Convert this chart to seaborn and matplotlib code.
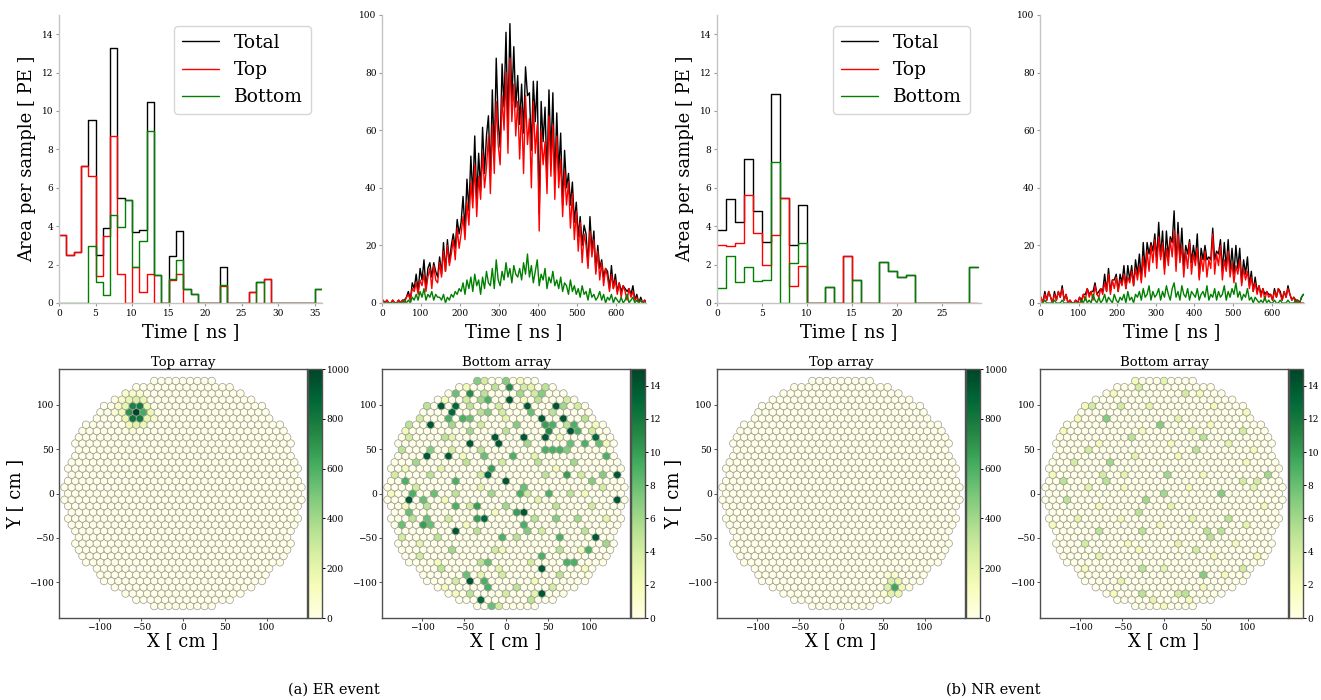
import numpy as np
import matplotlib
matplotlib.use("Agg")
import matplotlib.pyplot as plt
import seaborn as sns

# ---------------- waveform data (area per sample, PE) ----------------
# zoomed start of the waveform, 1 ns samples
er_zoom_top = [3.55, 2.5, 2.65, 7.15, 6.6, 1.4, 3.5, 8.7, 1.5, 0, 1.85, 0.55, 1.5, 0, 0, 1.2, 1.5, 0,
               0, 0, 0, 0, 0.9, 0, 0, 0, 0.55, 0, 1.25, 0, 0, 0, 0, 0, 0, 0]
er_zoom_bottom = [0, 0, 0, 0, 2.95, 1.1, 0.4, 4.6, 3.95, 5.35, 1.85, 3.25, 8.95, 1.45, 0, 1.25, 2.25, 0.75,
                  0.45, 0, 0, 0, 0.95, 0, 0, 0, 0, 1.1, 0, 0, 0, 0, 0, 0, 0, 0.75]
nr_zoom_top = [3.0, 2.95, 3.1, 5.6, 3.65, 2.0, 3.55, 5.45, 0.9, 1.95, 0, 0, 0, 0, 2.45, 0, 0, 0,
               0, 0, 0, 0, 0, 0, 0, 0, 0, 0, 0]
nr_zoom_bottom = [0.8, 2.45, 1.1, 1.9, 1.15, 1.2, 7.35, 0, 2.1, 3.15, 0, 0, 0.85, 0, 0, 1.2, 0, 0,
                  2.15, 1.65, 1.35, 1.45, 0, 0, 0, 0, 0, 0, 1.9]

# full waveform, 5 ns bins
wave_bin = 5
er_top = [1, 0, 1, 0, 0, 1, 0, 0, 1, 0,
          1, 0, 2, 3, 1, 5, 4, 7, 3, 8,
          6, 10, 4, 9, 12, 5, 13, 8, 7, 14,
          9, 18, 11, 20, 13, 17, 22, 15, 26, 19,
          24, 30, 22, 35, 27, 42, 33, 48, 30, 44,
          36, 52, 40, 47, 58, 38, 62, 45, 70, 55,
          48, 72, 60, 80, 52, 85, 63, 76, 58, 70,
          50, 68, 45, 72, 55, 64, 40, 70, 52, 62,
          25, 60, 48, 56, 38, 65, 44, 62, 36, 58,
          40, 50, 30, 46, 34, 42, 26, 38, 22, 32,
          18, 28, 14, 24, 20, 12, 25, 16, 22, 10,
          18, 8, 14, 6, 12, 9, 4, 10, 5, 8,
          3, 7, 2, 6, 4, 1, 5, 2, 4, 1,
          2, 0, 1, 0, 1, 0]
er_bottom = [0, 0, 0, 0, 0, 0, 0, 0, 0, 0,
             0, 1, 0, 1, 0, 2, 1, 3, 1, 4,
             2, 5, 1, 3, 2, 4, 1, 3, 2, 2,
             1, 3, 0, 2, 1, 3, 2, 4, 3, 5,
             4, 7, 3, 8, 5, 9, 4, 10, 6, 8,
             3, 9, 5, 11, 7, 6, 12, 5, 15, 8,
             6, 11, 8, 14, 9, 12, 7, 13, 10, 9,
             12, 8, 14, 10, 17, 9, 13, 7, 11, 15,
             6, 10, 8, 12, 5, 9, 7, 11, 6, 8,
             5, 9, 4, 7, 6, 3, 8, 4, 6, 3,
             5, 2, 6, 3, 4, 1, 5, 2, 3, 1,
             2, 4, 1, 3, 0, 2, 1, 3, 0, 2,
             1, 0, 2, 0, 1, 3, 0, 1, 2, 0,
             1, 0, 1, 0, 0, 0]
nr_top = [2, 0, 3, 1, 4, 2, 0, 3, 1, 4,
          2, 5, 1, 3, 0, 1, 0, 0, 1, 0,
          2, 0, 3, 1, 5, 2, 4, 1, 6, 3,
          2, 5, 3, 7, 4, 10, 3, 8, 5, 9,
          4, 8, 6, 10, 5, 9, 7, 11, 6, 12,
          8, 13, 7, 16, 9, 18, 11, 20, 14, 22,
          12, 23, 15, 21, 10, 19, 13, 22, 16, 25,
          11, 24, 14, 20, 9, 18, 12, 21, 10, 17,
          13, 19, 8, 16, 11, 18, 9, 15, 12, 24,
          10, 17, 13, 20, 8, 15, 11, 18, 9, 14,
          7, 13, 10, 15, 6, 12, 8, 11, 5, 9,
          4, 7, 3, 6, 2, 5, 1, 4, 2, 3,
          1, 4, 2, 5, 3, 1, 4, 2, 5, 3,
          1, 2, 0, 1, 0, 0, 0]
nr_bottom = [0, 0, 1, 0, 0, 0, 0, 1, 0, 0,
             0, 1, 0, 0, 0, 0, 0, 0, 0, 0,
             0, 1, 0, 2, 0, 1, 0, 3, 1, 0,
             2, 0, 1, 3, 0, 2, 1, 0, 3, 1,
             0, 2, 1, 3, 0, 4, 1, 2, 0, 3,
             2, 4, 1, 5, 2, 3, 6, 1, 4, 2,
             3, 5, 1, 4, 2, 6, 3, 1, 5, 7,
             2, 4, 1, 6, 3, 2, 5, 1, 4, 3,
             2, 5, 1, 3, 4, 2, 6, 1, 3, 2,
             5, 1, 4, 2, 3, 6, 1, 4, 2, 5,
             3, 7, 2, 4, 1, 3, 2, 5, 1, 2,
             0, 2, 1, 0, 1, 0, 2, 0, 1, 0,
             0, 1, 0, 0, 1, 0, 0, 0, 1, 0,
             0, 0, 1, 0, 0, 2, 3]

# ---------------- PMT hit patterns (x cm, y cm, area) ----------------
er_top_hits = [
    (-55.7, 91.4, 1000),
    (-60.0, 98.4, 760), (-51.4, 98.4, 790), (-64.3, 91.4, 700), (-47.1, 91.4, 620),
    (-60.0, 84.4, 820), (-51.4, 84.4, 800),
    (-64.3, 105.5, 190), (-55.7, 105.5, 240), (-47.1, 105.5, 170),
    (-68.6, 98.4, 180), (-42.8, 98.4, 160), (-72.8, 91.4, 150), (-38.6, 91.4, 170),
    (-68.6, 84.4, 170), (-42.8, 84.4, 180),
    (-64.3, 77.3, 140), (-55.7, 77.3, 210), (-47.1, 77.3, 160),
    (-72.8, 105.5, 100), (-77.1, 98.4, 80), (-60.0, 112.5, 90), (-68.6, 112.5, 70),
    (-51.4, 112.5, 80), (-81.4, 91.4, 70), (-34.3, 84.4, 80), (-60.0, 70.3, 70),
]
nr_top_hits = [
    (64.3, -105.5, 640),
    (60.0, -98.4, 260), (68.6, -98.4, 190), (55.7, -105.5, 230), (72.8, -105.5, 150),
    (60.0, -112.5, 210), (68.6, -112.5, 170), (64.3, -91.4, 80), (55.7, -91.4, 60),
    (51.4, -112.5, 70), (64.3, -119.5, 70),
]
er_bottom_hits = [
    # strong
    (4, 120, 11), (-40, 112, 11), (6, 105, 14), (-80, 98, 14), (-63, 98, 13), (-60, 91, 13),
    (27, 98, 14), (60, 98, 14), (43, 84, 14), (68, 84, 14), (-93, 77, 14), (51, 70, 11),
    (76, 70, 14), (22, 63, 14), (47, 63, 14), (105, 63, 13), (-10, 63, 14), (-6, 56, 14),
    (-40, 56, 14), (-97, 42, 14), (-72, 42, 14), (-19, 21, 13), (0, 14, 14), (130, 21, 14),
    (72, 21, 10), (-117, -7, 14), (130, -7, 14), (22, -21, 14), (-22, -28, 13), (-56, -42, 14),
    (105, -49, 14), (43, -84, 14), (-40, -98, 14), (43, -112, 14), (-27, -119, 13),
    # medium
    (-31, 126, 7), (2, 126, 7), (-63, 112, 8), (-19, 105, 9), (43, 112, 7), (-72, 84, 9),
    (-48, 84, 9), (-40, 84, 8), (-22, 91, 7), (15, 77, 7), (31, 91, 8), (47, 77, 10),
    (56, 77, 9), (80, 77, 9), (89, 70, 9), (80, 56, 8), (97, 56, 9), (109, 56, 8),
    (47, 49, 9), (56, 49, 9), (64, 49, 9), (72, 49, 7), (10, 42, 9), (-23, 42, 8),
    (-15, 28, 10), (117, 42, 9), (-88, 49, 7), (-121, 14, 9), (-63, 14, 9), (18, 7, 8),
    (100, 14, 7), (113, 21, 7), (-31, -14, 10), (-56, -14, 9), (-31, -28, 10), (14, -21, 10),
    (22, -35, 9), (-100, -35, 10), (-117, -21, 8), (-125, -35, 8), (-93, -35, 8), (64, -49, 9),
    (-2, -49, 9), (43, -70, 9), (97, -63, 9), (72, -77, 9), (80, -77, 9), (-19, -77, 8),
    (-43, -91, 8), (-19, -105, 9), (-14, -126, 8), (-97, -28, 8), (18, 0, 9), (51, 0, 9),
    (-89, 0, 8), (-114, 0, 9), (22, -42, 7), (64, -28, 7), (117, -56, 6), (-113, 0, 8),
    (-100, -7, 8), (-23, -98, 9),
    # light
    (-22, 126, 4), (-14, 119, 5), (22, 119, 4), (47, 119, 5), (-56, 112, 4), (-22, 112, 5),
    (13, 112, 6), (30, 112, 4), (-90, 105, 5), (-47, 105, 4), (-30, 105, 6), (38, 105, 5),
    (73, 105, 4), (-94, 98, 4), (-43, 98, 5), (-8, 98, 4), (69, 98, 6), (86, 98, 4),
    (-107, 84, 4), (-30, 91, 5), (0, 91, 4), (56, 91, 5), (94, 84, 5), (-116, 77, 5),
    (-64, 77, 6), (-30, 77, 4), (73, 77, 5), (103, 70, 4), (-112, 63, 4), (-77, 63, 5),
    (-43, 70, 6), (4, 70, 5), (-128, 49, 5), (-60, 49, 4), (-26, 49, 5), (26, 56, 6),
    (90, 56, 4), (-107, 35, 6), (-47, 35, 5), (-4, 35, 4), (39, 35, 5), (82, 35, 6),
    (-133, 21, 4), (-90, 21, 5), (-34, 21, 4), (43, 21, 5), (94, 21, 4), (-103, 7, 4),
    (-60, 0, 5), (-17, 0, 6), (26, 0, 4), (77, 0, 5), (116, 7, 4), (-90, -14, 5),
    (-47, -14, 4), (4, -14, 6), (56, -14, 5), (107, -14, 4), (-112, -28, 5), (-69, -28, 4),
    (34, -28, 5), (86, -28, 6), (-34, -42, 5), (47, -42, 4), (90, -42, 5), (-120, -49, 4),
    (-81, -49, 5), (17, -49, 5), (-60, -63, 6), (-17, -63, 4), (60, -63, 5), (-99, -70, 4),
    (-30, -77, 5), (26, -77, 4), (-73, -84, 5), (0, -91, 4), (64, -91, 5), (-56, -98, 4),
    (17, -105, 5), (56, -105, 4), (-43, -112, 5), (4, -112, 4), (26, -119, 5), (-9, -126, 4),
    # faint
    (-39, 126, 2), (13, 126, 2), (-47, 119, 2), (30, 119, 3), (-77, 105, 2), (21, 105, 2),
    (-111, 91, 2), (-4, 84, 3), (111, 84, 2), (-124, 70, 2), (-60, 63, 3), (64, 63, 2),
    (120, 56, 2), (-51, 42, 2), (30, 42, 3), (-116, 28, 2), (-73, 28, 3), (60, 28, 2),
    (-137, 0, 2), (-34, 7, 3), (98, 0, 2), (-77, -7, 2), (39, -7, 3), (-124, -14, 2),
    (-17, -21, 2), (120, -28, 3), (-47, -35, 2), (-107, -56, 3), (0, -63, 2), (86, -63, 2),
    (-81, -77, 2), (-9, -84, 3), (90, -84, 2), (-30, -91, 3), (30, -98, 2), (-73, -105, 2),
    (34, -112, 3), (-60, -112, 2),
]
nr_bottom_hits = [
    (-65, 85, 7), (-3, 77, 7), (-37, 64, 5), (46, 64, 5), (38, 49, 5), (-94, 49, 4),
    (-62, 35, 6), (-111, 35, 4), (5, 21, 6), (128, 21, 6), (0, 0, 6), (66, 0, 7),
    (-118, -7, 5), (-20, -7, 6), (-28, -21, 5), (74, -28, 5), (-74, -42, 5), (-24, -42, 5),
    (50, -42, 5), (66, -42, 5), (53, -49, 5), (46, -91, 7), (-24, -112, 5), (25, -112, 5),
    (16, -112, 4), (-24, -84, 5), (37, -63, 4), (-98, -56, 4), (-49, 99, 4), (-82, 99, 4),
    (-65, 14, 5), (-119, 14, 5), (91, 14, 4), (115, 14, 4), (23, 113, 4), (-29, 120, 4),
    (91, 71, 4), (94, -84, 4), (-69, 21, 4),
    # faint
    (-39, 126, 2), (4, 126, 3), (-56, 112, 2), (43, 112, 2), (-90, 98, 2), (-17, 98, 3),
    (64, 98, 2), (99, 91, 2), (-107, 84, 2), (13, 84, 3), (56, 77, 2), (-120, 70, 2),
    (-26, 70, 2), (30, 70, 3), (-77, 56, 2), (9, 56, 2), (73, 56, 3), (111, 49, 2),
    (-30, 42, 3), (21, 42, 2), (99, 35, 2), (-133, 21, 2), (-43, 21, 3), (47, 21, 2),
    (-94, 7, 3), (-47, 7, 2), (30, 7, 2), (107, 7, 3), (-73, -14, 2), (9, -14, 3),
    (120, -14, 2), (-103, -28, 3), (-51, -28, 2), (30, -28, 3), (-133, -35, 2), (0, -35, 2),
    (99, -35, 3), (-47, -56, 2), (13, -56, 3), (86, -56, 2), (-73, -70, 3), (-30, -63, 2),
    (64, -70, 2), (110, -70, 2), (-90, -84, 2), (0, -84, 3), (73, -91, 2), (-51, -98, 3),
    (47, -105, 2), (-60, -112, 2), (-17, -119, 3), (34, -119, 2), (4, -126, 2),
]

# ---------------- style ----------------
sns.set_theme(style="white")
plt.rcParams["font.family"] = ["DejaVu Serif"]
plt.rcParams["text.color"] = "black"
plt.rcParams["axes.labelcolor"] = "black"
plt.rcParams["xtick.color"] = "black"
plt.rcParams["ytick.color"] = "black"

W, H = 1321.0, 700.0
fig = plt.figure(figsize=(13.21, 7.0), dpi=100)


def px_axes(left, top, right, bottom):
    return fig.add_axes([left / W, 1 - bottom / H, (right - left) / W, (bottom - top) / H])


def wave_line(ax, values, dt, color, label, steps):
    v = np.asarray(values, dtype=float)
    if steps:
        t = np.arange(len(v) + 1) * dt
        y = np.append(v, v[-1])
        sns.lineplot(x=t, y=y, drawstyle="steps-post", color=color, lw=1.0, label=label,
                     ax=ax, estimator=None)
    else:
        t = np.arange(len(v)) * dt + dt / 2
        sns.lineplot(x=t, y=v, color=color, lw=1.0, label=label, ax=ax, estimator=None)


def waveform_panel(ax, top, bottom, dt, xmax, xticks, ymax, yticks, zoomed, ylabel):
    total = np.asarray(top, float) + np.asarray(bottom, float)
    wave_line(ax, total, dt, "black", "Total", zoomed)
    wave_line(ax, top, dt, "red", "Top", zoomed)
    wave_line(ax, bottom, dt, "green", "Bottom", zoomed)
    ax.set_xlim(0, xmax)
    ax.set_ylim(0, ymax)
    ax.set_xticks(xticks)
    ax.set_yticks(yticks)
    ax.set_xlabel("Time [ ns ]", fontsize=13)
    if ylabel:
        ax.set_ylabel("Area per sample [ PE ]", fontsize=13)
    for s in ["top", "right"]:
        ax.spines[s].set_visible(False)
    for s in ["left", "bottom"]:
        ax.spines[s].set_color("#c4c4c4")
        ax.spines[s].set_linewidth(1.0)
    ax.tick_params(left=True, bottom=True, length=2.5, width=0.8, color="#999999",
                   labelsize=6.5, pad=1.5)
    if zoomed:
        ax.legend(loc="upper right", fontsize=13.5, frameon=True, edgecolor="#cccccc",
                  handlelength=2.0, borderaxespad=0.6)
    else:
        ax.get_legend().remove()


# PMT positions: hexagonal pattern, 37 rows
PITCH_X, PITCH_Y = 8.57, 7.03
pmt_x, pmt_y = [], []
for j in range(-18, 19):
    for k in range(-17, 18):
        x = (k + 0.5 * (j % 2)) * PITCH_X
        y = j * PITCH_Y
        if (x / 143.0) ** 2 + (y / 132.0) ** 2 <= 1.0:
            pmt_x.append(x)
            pmt_y.append(y)
pmt_x = np.array(pmt_x)
pmt_y = np.array(pmt_y)


def pmt_values(hits):
    vals = np.zeros(len(pmt_x))
    for hx, hy, hv in hits:
        i = np.argmin((pmt_x - hx) ** 2 + (pmt_y - hy) ** 2)
        vals[i] = max(vals[i], hv)
    return vals


def array_panel(ax, cax, hits, vmax, cticks, title, ylabel):
    vals = pmt_values(hits)
    sns.scatterplot(x=pmt_x, y=pmt_y, hue=vals, palette="YlGn", hue_norm=(0, vmax),
                    s=29, edgecolor="#9a9a9a", linewidth=0.5, legend=False, ax=ax)
    ax.set_xlim(-148, 148)
    ax.set_ylim(-140, 140)
    ax.set_xticks([-100, -50, 0, 50, 100])
    ax.set_yticks([-100, -50, 0, 50, 100])
    ax.set_title(title, fontsize=9.5, pad=2)
    ax.set_xlabel("X [ cm ]", fontsize=13, labelpad=0)
    if ylabel:
        ax.set_ylabel("Y [ cm ]", fontsize=13)
    for s in ax.spines.values():
        s.set_color("#505050")
        s.set_linewidth(1.0)
    ax.tick_params(left=True, bottom=True, length=2, width=0.7, color="#505050",
                   labelsize=6.5, pad=1.5)
    sm = plt.cm.ScalarMappable(cmap="YlGn", norm=plt.Normalize(0, vmax))
    cb = fig.colorbar(sm, cax=cax, ticks=cticks)
    cb.outline.set_edgecolor("#505050")
    cb.outline.set_linewidth(1.0)
    cb.ax.tick_params(labelsize=6.5, length=2, width=0.7, pad=1.5)


# ---------------- top row: waveforms ----------------
ax1 = px_axes(59, 15, 322, 303)
waveform_panel(ax1, er_zoom_top, er_zoom_bottom, 1, 36, range(0, 36, 5), 15, range(0, 15, 2), True, True)
ax2 = px_axes(382, 15, 646, 303)
waveform_panel(ax2, er_top, er_bottom, wave_bin, 676, range(0, 700, 100), 100, range(0, 101, 20), False, False)
ax3 = px_axes(717, 15, 981, 303)
waveform_panel(ax3, nr_zoom_top, nr_zoom_bottom, 1, 29.3, range(0, 30, 5), 15, range(0, 15, 2), True, True)
ax4 = px_axes(1040, 15, 1304, 303)
waveform_panel(ax4, nr_top, nr_bottom, wave_bin, 684, range(0, 700, 100), 100, range(0, 101, 20), False, False)

# ---------------- bottom row: hit patterns ----------------
panels = [
    (59, er_top_hits, 1000, range(0, 1001, 200), "Top array", True),
    (382, er_bottom_hits, 15, range(0, 15, 2), "Bottom array", False),
    (717, nr_top_hits, 1000, range(0, 1001, 200), "Top array", True),
    (1040, nr_bottom_hits, 15, range(0, 15, 2), "Bottom array", False),
]
for left, hits, vmax, cticks, title, ylab in panels:
    ax = px_axes(left, 369, left + 248, 618)
    cax = px_axes(left + 249, 369, left + 263, 618)
    array_panel(ax, cax, hits, vmax, cticks, title, ylab)

fig.text(334 / W, 1 - 690 / H, "(a) ER event", ha="center", va="center", fontsize=10.5)
fig.text(993 / W, 1 - 690 / H, "(b) NR event", ha="center", va="center", fontsize=10.5)

fig.savefig("out.png", dpi=100)
